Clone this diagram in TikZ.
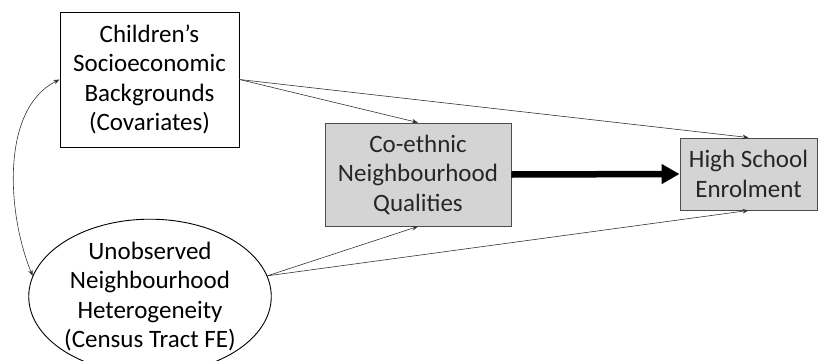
\documentclass[tikz,border=0pt]{standalone}
\usepackage{fontspec}
\setmainfont{Carlito}
\usetikzlibrary{arrows.meta,shapes.geometric}
\begin{document}
\begin{tikzpicture}[x=1pt,y=1pt,
  txt/.style={align=center,font=\fontsize{25}{29.5}\selectfont,inner sep=0pt},
  whitebox/.style={txt,draw=black,line width=0.9pt,rectangle},
  graybox/.style={txt,draw=black!70,fill=black!17,line width=0.9pt,rectangle,text=black!85},
  thin/.style={draw=black!80,line width=0.6pt,-{Stealth[length=6pt,width=4.5pt]}},
  thick/.style={draw=black,line width=6.5pt,-{Triangle[length=18pt,width=19pt]}}]
\useasboundingbox (0,0) rectangle (818,360);
\node[whitebox,minimum width=179pt,minimum height=135pt] (cb) at (149.5,280.5)
  {Children’s\\Socioeconomic\\Backgrounds\\(Covariates)};
\node[txt,draw=black,line width=0.9pt,ellipse,minimum width=240pt,minimum height=123pt] (ell) at (150,63.5)
  {Unobserved\\Neighbourhood\\Heterogeneity\\(Census Tract FE)};
\node[graybox,minimum width=186pt,minimum height=103pt] (co) at (418,185.5)
  {Co-ethnic\\Neighbourhood\\Qualities};
\node[graybox,minimum width=137pt,minimum height=72pt] (hs) at (748.5,186)
  {High School\\Enrolment};
\draw[thin] (cb.east) -- (co.north);
\draw[thin] (cb.east) -- (hs.north);
\draw[thin] (ell.10) -- (co.south);
\draw[thin] (ell.10) -- (hs.south);
\draw[thick] (co.east) -- (hs.west);
\draw[draw=black!80,line width=0.6pt,{Stealth[length=6pt,width=4.5pt]}-{Stealth[length=6pt,width=4.5pt]}]
  (cb.west) .. controls +(-60,-30) and +(-25,60) .. (ell.170);
\end{tikzpicture}
\end{document}
